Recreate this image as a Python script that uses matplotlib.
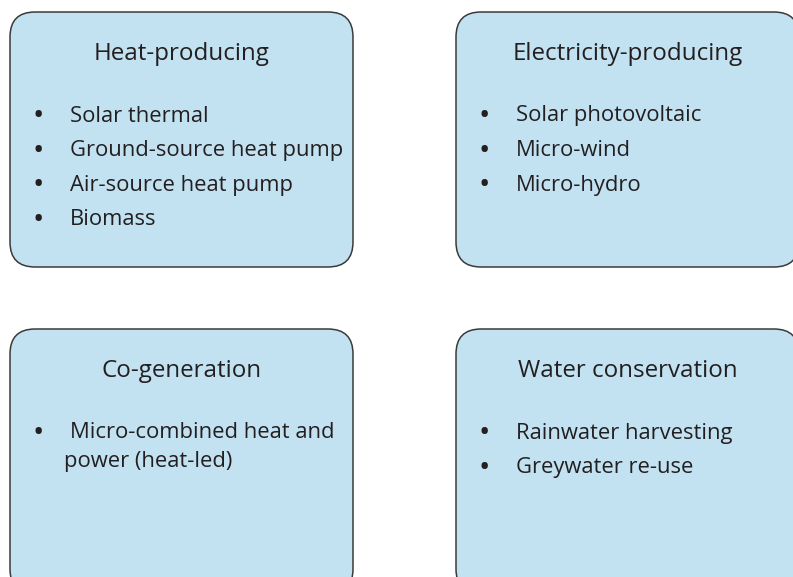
import matplotlib
matplotlib.use("Agg")
import matplotlib.pyplot as plt
from matplotlib.patches import FancyBboxPatch

# ---- content ----
titles = ["Heat-producing", "Electricity-producing", "Co-generation", "Water conservation"]
items_heat = ["Solar thermal", "Ground-source heat pump", "Air-source heat pump", "Biomass"]
items_elec = ["Solar photovoltaic", "Micro-wind", "Micro-hydro"]
items_cogen = [" Micro-combined heat and\npower (heat-led)"]
items_water = ["Rainwater harvesting", "Greywater re-use"]
all_items = [items_heat, items_elec, items_cogen, items_water]

# ---- layout (pixels) ----
W, H = 793, 577
box_x = [10, 456, 10, 456]
box_y = [12, 12, 329, 329]
box_w = [343, 343, 343, 343]
box_h = [255, 255, 265, 265]
fill = "#C2E2F2"
edge = "#3a3a3a"
tcol = "#231F20"
font = "Open Sans"

fig = plt.figure(figsize=(W / 100, H / 100), dpi=100)
ax = fig.add_axes([0, 0, 1, 1])
ax.set_xlim(0, W)
ax.set_ylim(H, 0)
ax.axis("off")

for i in range(4):
    x, y, w, h = box_x[i], box_y[i], box_w[i], box_h[i]
    p = FancyBboxPatch((x + 25, y + 25), w - 50, h - 50,
                       boxstyle="round,pad=25,rounding_size=25",
                       fc=fill, ec=edge, lw=1.1)
    ax.add_patch(p)
    ax.text(x + 171.5, y + 42, titles[i], ha="center", va="center",
            fontsize=17.4, family=font, color=tcol)
    for j, it in enumerate(all_items[i]):
        yy = y + 104 + j * 34.6
        ax.text(x + 28, yy + 1, "\u2022", ha="center", va="center",
                fontsize=22, family=font, color=tcol)
        if "\n" in it:
            first, second = it.split("\n")
            ax.text(x + 60, yy, first.strip(), ha="left", va="center",
                    fontsize=15.8, family=font, color=tcol)
            ax.text(x + 54, yy + 28, second, ha="left", va="center",
                    fontsize=15.8, family=font, color=tcol)
        else:
            ax.text(x + 60, yy, it, ha="left", va="center",
                    fontsize=15.8, family=font, color=tcol)

fig.savefig("out.png", dpi=100)
